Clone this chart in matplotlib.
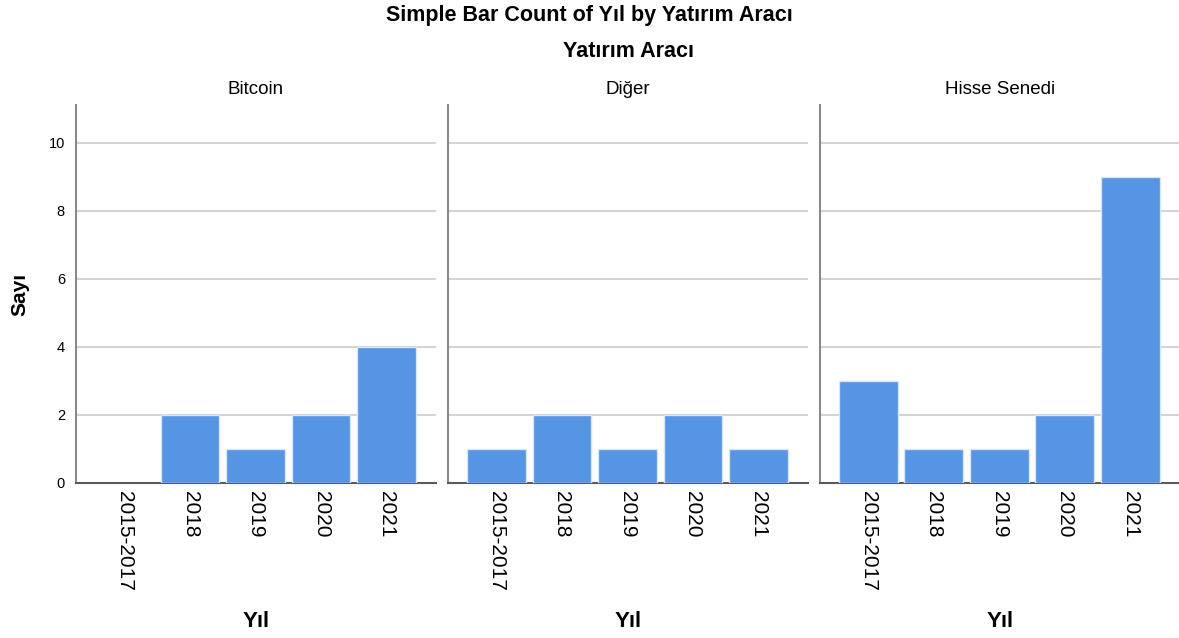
# -*- coding: utf-8 -*-
"""
Simple Bar Count of Yıl by Yatırım Aracı (SPSS-style panels)
"""

import matplotlib
matplotlib.use("Agg")
import matplotlib.pyplot as plt

plt.rcParams.update({
    "font.family": ["Liberation Sans", "DejaVu Sans"],
})

# ---- data -------------------------------------------------------------
years = ["2015-2017", "2018", "2019", "2020", "2021"]
panels = ["Bitcoin", "Diğer", "Hisse Senedi"]
count_bitcoin = [0, 2, 1, 2, 4]
count_diger = [1, 2, 1, 2, 1]
count_hisse = [3, 1, 1, 2, 9]
y_ticks = [0, 2, 4, 6, 8, 10]

BAR_COLOR = "#5595e3"
GRID_COLOR = "#d4d4d4"


def main() -> None:
    fig = plt.figure(figsize=(11.79, 6.38), dpi=100)

    lefts = [0.0645, 0.380, 0.6955]
    bottom, width, height = 0.243, 0.305, 0.592
    series = [count_bitcoin, count_diger, count_hisse]

    for i, (name, vals) in enumerate(zip(panels, series)):
        ax = fig.add_axes([lefts[i], bottom, width, height])
        x = list(range(len(years)))
        # no outline for empty bars, otherwise a light line covers the axis
        lws = [1.0 if v > 0 else 0.0 for v in vals]
        ax.bar(x, vals, width=0.9, color=BAR_COLOR, edgecolor="#d6e6f8",
               linewidth=lws, zorder=3)

        ax.set_xlim(-0.74, 4.75)
        ax.set_ylim(0, 11.1)
        ax.set_yticks(y_ticks)
        for t in y_ticks[1:]:
            ax.axhline(t, color=GRID_COLOR, linewidth=1.5, zorder=1)

        ax.set_xticks(x)
        ax.set_xticklabels(years, rotation=-90, fontsize=15, va="top")
        ax.tick_params(axis="both", length=0, pad=6)
        ax.tick_params(axis="y", labelsize=10.5, pad=8)
        if i > 0:
            ax.set_yticklabels([])

        for side in ("top", "right"):
            ax.spines[side].set_visible(False)
        ax.spines["left"].set_color("#8a8a8a")
        ax.spines["left"].set_linewidth(1.5)
        ax.spines["bottom"].set_color("#5a5a5a")
        ax.spines["bottom"].set_linewidth(1.5)

        ax.set_title(name, fontsize=13.5, pad=8)
        ax.set_xlabel("Yıl", fontsize=16, fontweight="bold", labelpad=14)
        if i == 0:
            ax.set_ylabel("Sayı", fontsize=15, fontweight="bold", labelpad=14)

    fig.text(0.5, 0.975, "Simple Bar Count of Yıl by Yatırım Aracı",
             ha="center", va="center", fontsize=15.5, fontweight="bold")
    fig.text(0.533, 0.92, "Yatırım Aracı", ha="center", va="center",
             fontsize=15.5, fontweight="bold")

    fig.savefig("out.png", dpi=100)
    plt.close(fig)


if __name__ == "__main__":
    main()
